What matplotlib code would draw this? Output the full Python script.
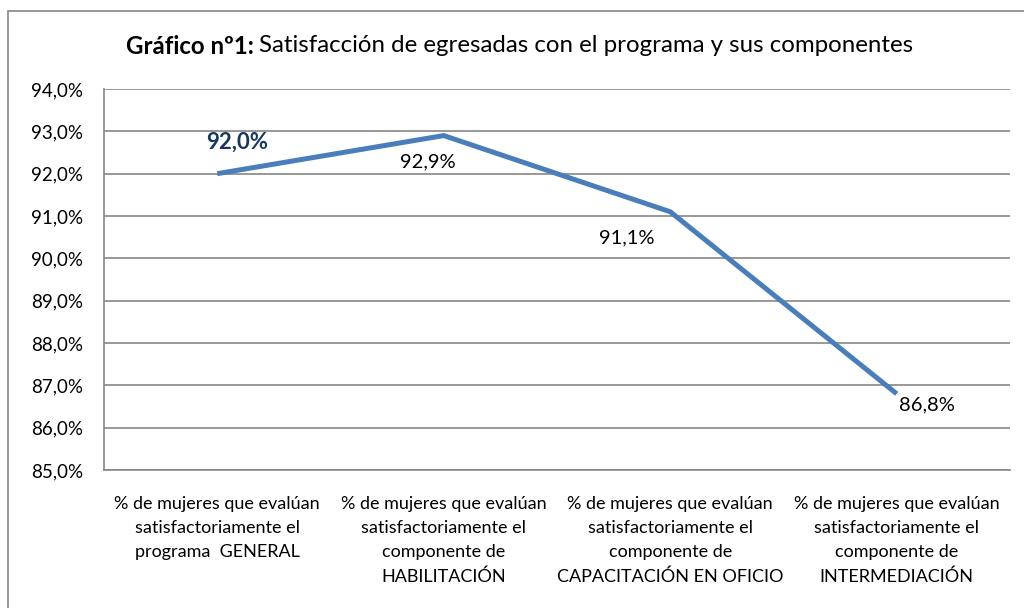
import matplotlib
matplotlib.use("Agg")
import matplotlib.pyplot as plt
from matplotlib.patches import Rectangle
from matplotlib.ticker import FuncFormatter

categories = [
    "% de mujeres que evalúan\nsatisfactoriamente el\nprograma  GENERAL",
    "% de mujeres que evalúan\nsatisfactoriamente el\ncomponente de\nHABILITACIÓN",
    "% de mujeres que evalúan\nsatisfactoriamente el\ncomponente de\nCAPACITACIÓN EN OFICIO",
    "% de mujeres que evalúan\nsatisfactoriamente el\ncomponente de\nINTERMEDIACIÓN",
]
values = [0.920, 0.929, 0.911, 0.868]
yticks = [0.85, 0.86, 0.87, 0.88, 0.89, 0.90, 0.91, 0.92, 0.93, 0.94]

plt.rcParams['font.family'] = ['Lato', 'DejaVu Sans']

W, H = 1024, 608
fig = plt.figure(figsize=(W / 100, H / 100), dpi=100)
fig.patch.set_facecolor('white')

# outer chart border
fig.add_artist(Rectangle((8 / W, -0.05), 1.1, (H - 11) / H + 0.05, transform=fig.transFigure,
                         fill=False, edgecolor='#868686', linewidth=1.2))

ax = fig.add_axes([104 / W, (H - 470) / H, 906 / W, 381 / H])
x = list(range(len(values)))
ax.plot(x, values, color='#4a7ebb', linewidth=3.6, solid_capstyle='butt', zorder=3)

ax.set_xlim(-0.5, 3.5)
ax.set_ylim(0.85, 0.94)
ax.set_yticks(yticks)
ax.yaxis.set_major_formatter(FuncFormatter(lambda v, p: f"{v*100:.1f}%".replace('.', ',')))
ax.set_xticks(x)
ax.set_xticklabels(categories, fontsize=13, linespacing=1.6, color='#000000')
ax.tick_params(axis='both', length=0)
ax.tick_params(axis='y', labelsize=13.5, pad=15, colors='#000000')
ax.tick_params(axis='x', pad=19)
ax.grid(axis='y', color='#868686', linewidth=1.2)
ax.set_axisbelow(True)
for s in ['top', 'right']:
    ax.spines[s].set_visible(False)
for s in ['left', 'bottom']:
    ax.spines[s].set_color('#868686')
    ax.spines[s].set_linewidth(1.2)

# data labels
offsets = [(20, 31), (-16, -26), (-43, -26), (30, -11)]
for i, (v, off) in enumerate(zip(values, offsets)):
    lab = f"{v*100:.1f}%".replace('.', ',')
    if i == 0:
        ax.annotate(lab, (i, v), xytext=(off[0] * 0.72, off[1] * 0.72), textcoords='offset points',
                    ha='center', va='center', fontsize=16, fontweight='bold', color='#17375e')
    else:
        ax.annotate(lab, (i, v), xytext=(off[0] * 0.72, off[1] * 0.72), textcoords='offset points',
                    ha='center', va='center', fontsize=14.5, color='#000000')

# title with mixed weight
t1 = fig.text(126 / W, 1 - 46 / H, "Gráfico nº1:", fontsize=17.3, fontweight='bold', va='center', ha='left')
fig.canvas.draw()
bb = t1.get_window_extent()
fig.text(bb.x1 / W + 5 / W, 1 - 46 / H, "Satisfacción de egresadas con el programa y sus componentes",
         fontsize=17.3, va='center', ha='left')

fig.savefig("out.png", dpi=100, facecolor='white')
